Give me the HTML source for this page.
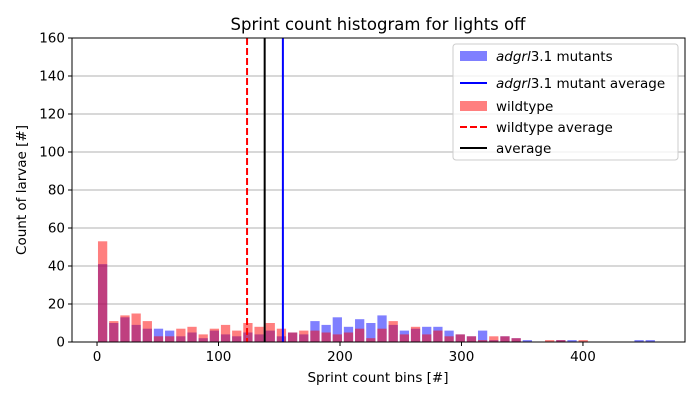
<!DOCTYPE html>
<html><head><meta charset="utf-8"><style>
body{margin:0;background:#fff;}
svg{font-family:"DejaVu Sans","Liberation Sans",sans-serif;}
</style></head><body>
<svg id="chart" width="700" height="400" viewBox="0 0 700 400" xmlns="http://www.w3.org/2000/svg">
<rect width="700" height="400" fill="#fff"/>
<text x="378" y="30" font-size="16.5" text-anchor="middle">Sprint count histogram for lights off</text>
<g id="grid"></g>
<g id="bars"></g>
<g id="vlines"></g>
<rect x="72" y="38" width="613" height="304" fill="none" stroke="#000" stroke-width="1"/>
<g id="ticks" font-size="13.5"></g>
<text x="378" y="382" font-size="13.5" text-anchor="middle">Sprint count bins [#]</text>
<text transform="translate(26,190) rotate(-90)" font-size="13.5" text-anchor="middle">Count of larvae [#]</text>
<g font-size="13.5">
<rect x="453" y="44" width="225" height="116" rx="3" fill="#fff" fill-opacity="0.8" stroke="#ccc"/>
<rect x="460" y="51" width="27" height="10" fill="#0000ff" fill-opacity="0.5"/>
<text x="496" y="61"><tspan font-style="italic">adgrl</tspan>3.1 mutants</text>
<line x1="460" y1="83" x2="487" y2="83" stroke="#0000ff" stroke-width="2"/>
<text x="496" y="88"><tspan font-style="italic">adgrl</tspan>3.1 mutant average</text>
<rect x="460" y="101" width="27" height="10" fill="#ff0000" fill-opacity="0.5"/>
<text x="496" y="111">wildtype</text>
<line x1="460" y1="127" x2="487" y2="127" stroke="#ff0000" stroke-width="2" stroke-dasharray="7,3"/>
<text x="496" y="132">wildtype average</text>
<line x1="460" y1="148" x2="487" y2="148" stroke="#000" stroke-width="2"/>
<text x="496" y="153">average</text>
</g>
</svg>
<script>
const binStart = 0;
const binWidth = 9.2;
const mutantCounts = [41,10,13,9,7,7,6,3,5,2,6,4,3,5,4,6,3,5,4,11,9,13,8,12,10,14,9,6,7,8,8,6,4,3,6,1,3,2,1,0,0,1,1,0,0,0,0,0,1,1];
const wildtypeCounts = [53,11,14,15,11,3,3,7,8,4,7,9,6,10,8,10,7,5,6,6,5,4,5,7,2,7,11,4,8,4,6,3,4,3,1,3,3,2,0,0,1,1,0,1,0,0,0,0,0,0];
const averages = [123.5, 153, 138];
const xTicks = [0,100,200,300,400];
const yTicks = [0,20,40,60,80,100,120,140,160];
const NS='http://www.w3.org/2000/svg';
const X0=72,X1=685,Y0=342,Y1=38,xmin=-20.6,xmax=484,ymax=160;
const xs=v=>X0+(v-xmin)/(xmax-xmin)*(X1-X0);
const ys=v=>Y0-v/ymax*(Y0-Y1);
function mk(t,a,p){const e=document.createElementNS(NS,t);for(const k in a)e.setAttribute(k,a[k]);p.appendChild(e);return e;}
const grid=document.getElementById('grid'),bars=document.getElementById('bars'),vl=document.getElementById('vlines'),tk=document.getElementById('ticks');
yTicks.forEach(v=>{
 const l=mk('line',{x1:X0,x2:X1,y1:ys(v),y2:ys(v),stroke:'#b0b0b0','stroke-width':1},grid);
 
 
 mk('line',{x1:X0-4,x2:X0,y1:ys(v),y2:ys(v),stroke:'#000'},tk);
 const t=mk('text',{x:X0-7,y:ys(v)+4.5,'text-anchor':'end'},tk);t.textContent=v;
 
 
});
xTicks.forEach(v=>{
 mk('line',{x1:xs(v),x2:xs(v),y1:Y0,y2:Y0+4,stroke:'#000'},tk);
 const t=mk('text',{x:xs(v),y:Y0+19,'text-anchor':'middle'},tk);t.textContent=v;
 
 
});
function drawSeries(arr,color,name){
 arr.forEach((c,i)=>{
  if(!c)return;
  const a=binStart+i*binWidth,w=binWidth*0.83,l=a+binWidth*0.085;
  const r=mk('rect',{x:xs(l),y:ys(c),width:xs(l+w)-xs(l),height:ys(0)-ys(c),fill:color,'fill-opacity':0.5},bars);
  
  
 });
}
drawSeries(mutantCounts,'#0000ff','mutant-bar');
drawSeries(wildtypeCounts,'#ff0000','wildtype-bar');
const lineStyles=[['#ff0000','7,3','wildtype-average-line'],['#0000ff','','mutant-average-line'],['#000000','','average-line']];
averages.forEach((v,i)=>{
 const l=mk('line',{x1:xs(v),x2:xs(v),y1:Y1,y2:Y0,stroke:lineStyles[i][0],'stroke-width':2},vl);
 if(lineStyles[i][1])l.setAttribute('stroke-dasharray',lineStyles[i][1]);
 
 
});
</script>
</body></html>
